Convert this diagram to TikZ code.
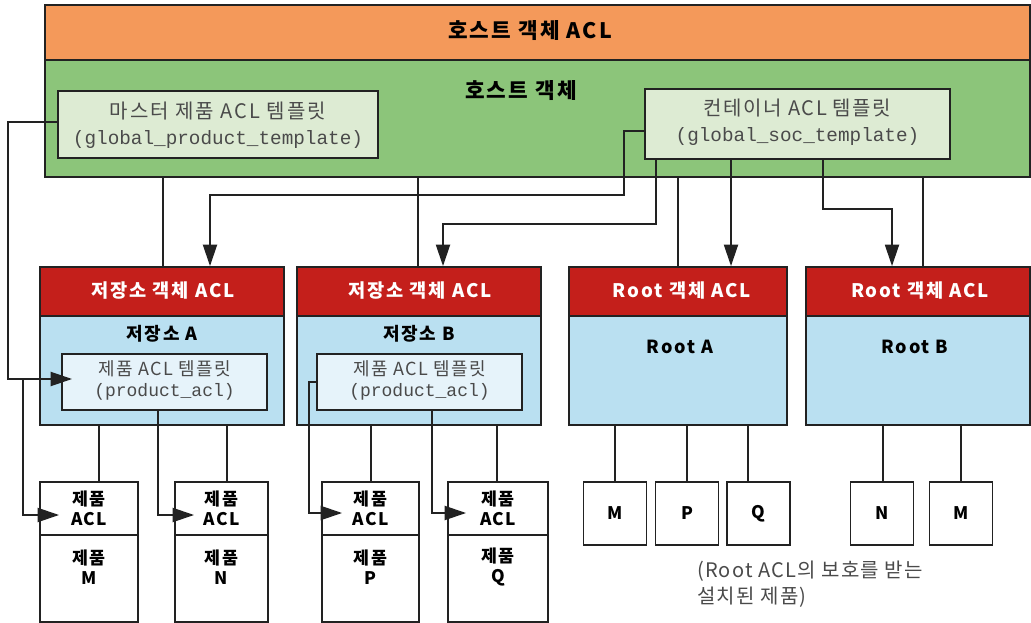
\documentclass[tikz,border=0pt]{standalone}
\usepackage{fontspec}
\setmainfont{Noto Sans CJK KR}
\newfontfamily\monofont{Liberation Mono}
\usetikzlibrary{arrows.meta,calc}
\definecolor{edge}{HTML}{222222}
\definecolor{orangeC}{HTML}{F4995A}
\definecolor{greenC}{HTML}{8CC57A}
\definecolor{paleG}{HTML}{DDEBD3}
\definecolor{redC}{HTML}{C41F1B}
\definecolor{blueC}{HTML}{BAE0F1}
\definecolor{paleB}{HTML}{E6F3FA}
\definecolor{txtG}{HTML}{4A4A4A}
\newcommand\ksp[1]{\addfontfeatures{LetterSpace=#1}}
\begin{document}
\begin{tikzpicture}[x=0.75pt,y=-0.75pt,
  bx/.style={draw=edge,line width=1.4pt,inner sep=0pt},
  sz/.style 2 args={minimum width=#1*0.75pt,minimum height=#2*0.75pt},
  ln/.style={draw=edge,line width=1.4pt},
  arr/.style={ln,-{Triangle[length=16pt,width=10.5pt]}},
  hdr/.style={font=\fontsize{16}{19}\selectfont\bfseries\ksp{10},text=black},
  redt/.style={font=\fontsize{14}{17}\selectfont\bfseries\ksp{10},text=white},
  ttl/.style={font=\fontsize{13.5}{16}\selectfont\bfseries\ksp{10},text=black},
  tpl/.style={align=center,text=txtG},
  prd/.style={align=center,font=\fontsize{13}{15}\selectfont\bfseries\ksp{8}},
  rp/.style={bx,fill=white,sz={63}{63},font=\fontsize{13}{15}\selectfont\bfseries},
]
\path[use as bounding box,fill=white] (0,0) rectangle (1031,623);

% host object ACL and host object
\node[bx,fill=orangeC,sz={985}{55}] (hostacl) at (537.5,32.5) {};
\node[hdr] (hostacltxt) at (530,31) {호스트 객체 ACL};
\node[bx,fill=greenC,sz={985}{117}] (host) at (537.5,118.5) {};
\node[hdr] (hosttxt) at (521,91) {호스트 객체};

% templates in host
\node[bx,fill=paleG,sz={320}{67}] (master) at (218,124.5) {};
\node[tpl,font=\fontsize{15}{18}\selectfont\ksp{10}] (mastert1) at (218,111) {마스터 제품 ACL 템플릿};
\node[tpl,font=\fontsize{14.5}{17}\monofont] (mastert2) at (218,140) {(global\_product\_template)};
\node[bx,fill=paleG,sz={305}{70}] (container) at (797.5,124) {};
\node[tpl,font=\fontsize{15}{18}\selectfont\ksp{8}] (contt1) at (797.5,108) {컨테이너 ACL 템플릿};
\node[tpl,font=\fontsize{14.5}{17}\monofont] (contt2) at (797.5,137) {(global\_soc\_template)};

% storage and root objects
\node[bx,fill=redC,sz={244}{49}] (redA) at (162,291.5) {};
\node[redt] (redAt) at (163,291) {저장소 객체 ACL};
\node[bx,fill=blueC,sz={244}{109}] (blueA) at (162,370.5) {};
\node[ttl] (blueAt) at (162,334) {저장소 A};

\node[bx,fill=redC,sz={244}{49}] (redB) at (419,291.5) {};
\node[redt] (redBt) at (420,291) {저장소 객체 ACL};
\node[bx,fill=blueC,sz={244}{109}] (blueB) at (419,370.5) {};
\node[ttl] (blueBt) at (419,334) {저장소 B};

\node[bx,fill=redC,sz={218}{49}] (redRA) at (678,291.5) {};
\node[redt] (redRAt) at (682,291) {Root 객체 ACL};
\node[bx,fill=blueC,sz={218}{109}] (blueRA) at (678,370.5) {};
\node[ttl] (blueRAt) at (680,347) {Root A};

\node[bx,fill=redC,sz={224}{49}] (redRB) at (918,291.5) {};
\node[redt] (redRBt) at (920,291) {Root 객체 ACL};
\node[bx,fill=blueC,sz={224}{109}] (blueRB) at (918,370.5) {};
\node[ttl] (blueRBt) at (915,347) {Root B};

% product ACL templates
\node[bx,fill=paleB,sz={205}{56}] (tmplA) at (164.5,382) {};
\node[tpl,font=\fontsize{13.5}{16}\selectfont\ksp{8}] (tmplAt1) at (164.5,369) {제품 ACL 템플릿};
\node[tpl,font=\fontsize{13.5}{16}\monofont] (tmplAt2) at (164.5,392) {(product\_acl)};
\node[bx,fill=paleB,sz={205}{56}] (tmplB) at (419.5,382) {};
\node[tpl,font=\fontsize{13.5}{16}\selectfont\ksp{8}] (tmplBt1) at (419.5,369) {제품 ACL 템플릿};
\node[tpl,font=\fontsize{13.5}{16}\monofont] (tmplBt2) at (419.5,392) {(product\_acl)};

% products
\node[bx,fill=white,sz={98}{53},prd] (pMa) at (89,508.5) {제품\\ACL};
\node[bx,fill=white,sz={98}{87}] (pMb) at (89,578.5) {};
\node[prd] (pMbt) at (89,567) {제품\\M};
\node[bx,fill=white,sz={93}{53},prd] (pNa) at (221.5,508.5) {제품\\ACL};
\node[bx,fill=white,sz={93}{87}] (pNb) at (221.5,578.5) {};
\node[prd] (pNbt) at (221.5,567) {제품\\N};
\node[bx,fill=white,sz={97}{53},prd] (pPa) at (370.5,508.5) {제품\\ACL};
\node[bx,fill=white,sz={97}{87}] (pPb) at (370.5,578.5) {};
\node[prd] (pPbt) at (370.5,567) {제품\\P};
\node[bx,fill=white,sz={100}{53},prd] (pQa) at (498,508.5) {제품\\ACL};
\node[bx,fill=white,sz={100}{87}] (pQb) at (498,578.5) {};
\node[prd] (pQbt) at (498,567) {제품\\Q};

% root products
\node[rp] (rM1) at (615,513.5) {M};
\node[rp] (rP1) at (687,513.5) {P};
\node[rp] (rQ1) at (758.5,513.5) {Q};
\node[rp] (rN1) at (882,513.5) {N};
\node[rp] (rM2) at (961,513.5) {M};

\node[anchor=north west,align=left,font=\fontsize{15}{19}\selectfont\ksp{6},text=txtG,inner sep=0pt] (caption) at (697,561)
  {(Root ACL의 보호를 받는\\설치된 제품)};

% plain connectors host -> objects
\draw[ln] (redA.north) ++(1,0) coordinate (h1) -- (h1 |- host.south);
\draw[ln] (redB.north) ++(-1,0) coordinate (h2) -- (h2 |- host.south);
\draw[ln] (redRA.north) coordinate (h3) -- (h3 |- host.south);
\draw[ln] (redRB.north) ++(5,0) coordinate (h4) -- (h4 |- host.south);

% container template arrows
\coordinate (b1) at (624,195);
\coordinate (b2) at (443,224);
\coordinate (b3) at (892,209);
\draw[arr] ($(container.west)+(0,7)$) -| (b1) -| ($(redA.north)+(48,0)$);
\draw[arr] ($(container.south)+(-141.5,0)$) |- (b2) -- ($(redB.north)+(24,0)$);
\draw[arr] ($(container.south)+(-66.5,0)$) -- ($(redRA.north)+(53,0)$);
\draw[arr] ($(container.south)+(25.5,0)$) |- (b3) -- ($(redRB.north)+(-26,0)$);

% master template arrows
\coordinate (b4) at (8,379);
\coordinate (j1) at (23,379);
\draw[arr] ($(master.west)+(0,-2.5)$) -| (b4) -- ($(tmplA.west)+(11,-3)$);
\draw[arr] (j1) |- ($(pMa.west)+(20,6.5)$);
\draw[arr] ($(tmplA.south)+(-6.5,0)$) |- ($(pNa.west)+(20,6.5)$);
\draw[arr] (tmplB.west) -- ++(-7,0) |- ($(pPa.west)+(21,4.5)$);
\draw[arr] ($(tmplB.south)+(12.5,0)$) |- ($(pQa.west)+(19,4.5)$);

% storage -> products
\draw[ln] (pMa.north) ++(10,0) coordinate (s1) -- (s1 |- blueA.south);
\draw[ln] (pNa.north) ++(5.5,0) coordinate (s2) -- (s2 |- blueA.south);
\draw[ln] (pPa.north) ++(0.5,0) coordinate (s3) -- (s3 |- blueB.south);
\draw[ln] (pQa.north) ++(-1,0) coordinate (s4) -- (s4 |- blueB.south);
\draw[ln] (rM1.north) coordinate (s5) -- (s5 |- blueRA.south);
\draw[ln] (rP1.north) coordinate (s6) -- (s6 |- blueRA.south);
\draw[ln] (rQ1.north) ++(-10.5,0) coordinate (s7) -- (s7 |- blueRA.south);
\draw[ln] (rN1.north) ++(1,0) coordinate (s8) -- (s8 |- blueRB.south);
\draw[ln] (rM2.north) coordinate (s9) -- (s9 |- blueRB.south);
\end{tikzpicture}
\end{document}
